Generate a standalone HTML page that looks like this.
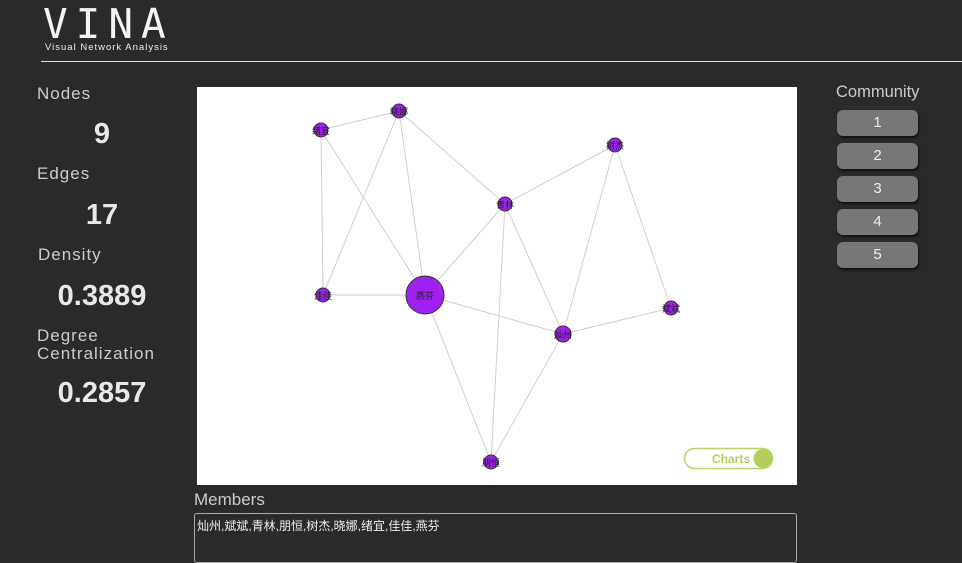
<!DOCTYPE html>
<html><head><meta charset="utf-8"><style>
body{margin:0;width:962px;height:552px;background:#2a2a2a;overflow:hidden;position:relative;font-family:"Liberation Sans","Noto Sans CJK SC",sans-serif;color:#ddd}
.abs{position:absolute}
.lbl{font-size:17px;color:#ccc;letter-spacing:1px}
.val{font-size:29px;font-weight:bold;color:#e8e8e8;text-align:center;width:130px}
.btn{position:absolute;left:837px;width:81px;height:26px;background:#777;border-radius:6px;box-shadow:1px 2px 2px #111;color:#eee;text-align:center;line-height:26px;font-size:15px}
</style></head><body>
<div class="abs" style="left:43px;top:0px;font-size:41px;letter-spacing:8px;color:#f4f4f4;font-family:'DejaVu Sans Mono','Liberation Mono',monospace;font-weight:200">VINA</div>
<div class="abs" style="left:45px;top:42px;font-size:9.5px;color:#eee;letter-spacing:1px">Visual Network Analysis</div>
<div class="abs" style="left:41px;top:61px;width:921px;height:1px;background:#ddd"></div>

<div class="abs lbl" style="left:37px;top:84px">Nodes</div>
<div class="abs val" style="left:37px;top:118px">9</div>
<div class="abs lbl" style="left:37px;top:164px">Edges</div>
<div class="abs val" style="left:37px;top:199px">17</div>
<div class="abs lbl" style="left:38px;top:245px">Density</div>
<div class="abs val" style="left:37px;top:280px">0.3889</div>
<div class="abs lbl" style="left:37px;top:327px;line-height:18px">Degree<br>Centralization</div>
<div class="abs val" style="left:37px;top:377px">0.2857</div>

<div class="abs" style="left:836px;top:83px;font-size:16.5px;color:#ccc">Community</div>
<div class="btn" style="top:110px">1</div>
<div class="btn" style="top:143px">2</div>
<div class="btn" style="top:176px">3</div>
<div class="btn" style="top:209px">4</div>
<div class="btn" style="top:242px">5</div>

<svg class="abs" style="left:197px;top:87px" width="600" height="398">
<rect width="600" height="398" fill="#fff"/>
<g id="edges"></g><g id="nodes"></g>
<g>
<rect x="487.5" y="361.5" width="88" height="20" rx="10" fill="#fff" stroke="#b8d46a" stroke-width="1.5"/>
<text x="515" y="376" font-size="12" fill="#b2cf5e" font-weight="bold" font-family="Liberation Sans,sans-serif">Charts</text>
<circle cx="566" cy="371.5" r="9.5" fill="#b2cf5e"/>
</g>
</svg>

<div class="abs" style="left:194px;top:490px;font-size:17px;color:#ccc">Members</div>
<div class="abs" style="left:194px;top:513px;width:603px;height:50px;border:1px solid #aaa;border-radius:3px;font-size:12px;color:#eee;padding:3px 2px;box-sizing:border-box">灿州,斌斌,青林,朋恒,树杰,晓娜,绪宜,佳佳,燕芬</div>

<script>
const nodes=["绪宜","晓娜","树杰","青林","佳佳","燕芬","斌斌","灿州","朋恒"];
const xs=[124,202,418,308,126,228,474,366,294];
const ys=[43,24,58,117,208,208,221,247,375];
const sizes=[7,7,7,7,7,19,7,8,7];
const edges=[[0,1],[0,4],[0,5],[1,4],[1,5],[1,3],[3,2],[3,5],[3,7],[3,8],[2,7],[2,6],[4,5],[5,7],[5,8],[7,6],[7,8]];
const NS="http://www.w3.org/2000/svg";
const ge=document.getElementById('edges'),gn=document.getElementById('nodes');
edges.forEach(function(e,i){
  const l=document.createElementNS(NS,'line');
  l.setAttribute('x1',xs[e[0]]);l.setAttribute('y1',ys[e[0]]);
  l.setAttribute('x2',xs[e[1]]);l.setAttribute('y2',ys[e[1]]);
  l.setAttribute('stroke','#d0d0d0');l.setAttribute('stroke-width','1');
  
  
  ge.appendChild(l);
});
nodes.forEach(function(n,i){
  const c=document.createElementNS(NS,'circle');
  c.setAttribute('cx',xs[i]);c.setAttribute('cy',ys[i]);c.setAttribute('r',sizes[i]);
  c.setAttribute('fill','#a020f0');c.setAttribute('stroke','#333');c.setAttribute('stroke-width','1');
  
  
  gn.appendChild(c);
  const t=document.createElementNS(NS,'text');
  t.setAttribute('x',xs[i]);t.setAttribute('y',ys[i]+4);
  t.setAttribute('text-anchor','middle');t.setAttribute('font-size','9');
  t.setAttribute('fill','#222');
  t.setAttribute('font-family','Noto Sans CJK SC,sans-serif');
  t.textContent=n;
  
  
  gn.appendChild(t);
});
</script>
</body></html>
